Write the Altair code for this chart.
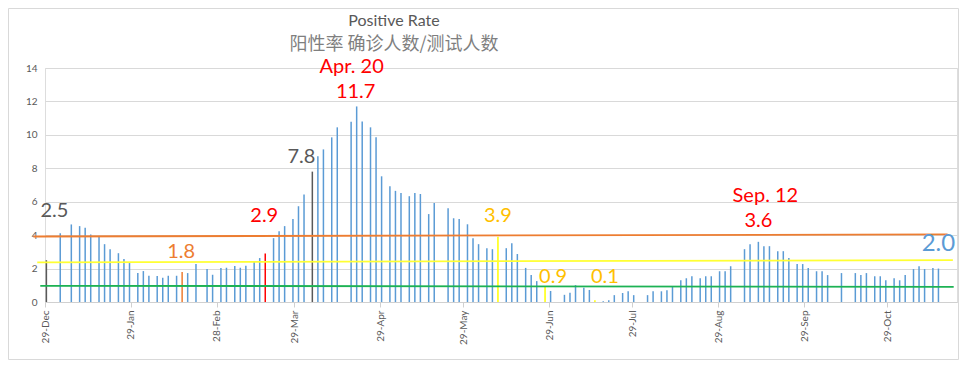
import json
import altair as alt
import pandas as pd

# ---------------- data ----------------
bar_dates = [
    "2020-12-29", "2021-01-03", "2021-01-07", "2021-01-10", "2021-01-12", "2021-01-14", "2021-01-17",
    "2021-01-19", "2021-01-21", "2021-01-24", "2021-01-26", "2021-01-28", "2021-01-31",
    "2021-02-02", "2021-02-04", "2021-02-07", "2021-02-09", "2021-02-11", "2021-02-14", "2021-02-16",
    "2021-02-18", "2021-02-21", "2021-02-25", "2021-02-27",
    "2021-03-02", "2021-03-04", "2021-03-07", "2021-03-09", "2021-03-11", "2021-03-14", "2021-03-16",
    "2021-03-18", "2021-03-21", "2021-03-23", "2021-03-25", "2021-03-28", "2021-03-30",
    "2021-04-01", "2021-04-04", "2021-04-06", "2021-04-08", "2021-04-11", "2021-04-13", "2021-04-18",
    "2021-04-20", "2021-04-22", "2021-04-25", "2021-04-27", "2021-04-29",
    "2021-05-02", "2021-05-04", "2021-05-06", "2021-05-09", "2021-05-11", "2021-05-13", "2021-05-16",
    "2021-05-18", "2021-05-23", "2021-05-25", "2021-05-27", "2021-05-30",
    "2021-06-01", "2021-06-03", "2021-06-06", "2021-06-08", "2021-06-10", "2021-06-13", "2021-06-15",
    "2021-06-17", "2021-06-20", "2021-06-22", "2021-06-24", "2021-06-27", "2021-06-29",
    "2021-07-04", "2021-07-06", "2021-07-08", "2021-07-11", "2021-07-13", "2021-07-15", "2021-07-18",
    "2021-07-20", "2021-07-22", "2021-07-25", "2021-07-27", "2021-07-29",
    "2021-08-03", "2021-08-05", "2021-08-08", "2021-08-10", "2021-08-12", "2021-08-15", "2021-08-17",
    "2021-08-19", "2021-08-22", "2021-08-24", "2021-08-26", "2021-08-29", "2021-08-31",
    "2021-09-02", "2021-09-07", "2021-09-09", "2021-09-12", "2021-09-14", "2021-09-16", "2021-09-19",
    "2021-09-21", "2021-09-23", "2021-09-26", "2021-09-28", "2021-09-30",
    "2021-10-03", "2021-10-05", "2021-10-07", "2021-10-12", "2021-10-17", "2021-10-19", "2021-10-21",
    "2021-10-24", "2021-10-26", "2021-10-28", "2021-10-31",
    "2021-11-02", "2021-11-04", "2021-11-07", "2021-11-09", "2021-11-11", "2021-11-14", "2021-11-16",
]
bar_values = [
    2.5, 4.12, 4.64, 4.54, 4.44, 4.04, 3.90, 3.46, 3.16, 2.92, 2.57, 2.33, 1.73,
    1.85, 1.57, 1.55, 1.45, 1.57, 1.57, 1.8, 1.73, 2.27, 1.97, 1.63,
    2.03, 2.05, 2.15, 2.05, 2.17, 2.45, 2.63, 2.9, 3.82, 4.24, 4.54, 4.97, 5.73,
    6.43, 7.8, 8.72, 9.13, 9.85, 10.45, 10.79, 11.7, 10.8, 10.45, 9.85, 7.52,
    6.93, 6.65, 6.52, 6.33, 6.52, 6.46, 5.26, 5.92, 5.61, 5.01, 4.96, 4.65,
    3.82, 3.46, 3.22, 3.16, 3.9, 3.22, 3.52, 2.87, 2.04, 1.61, 1.25, 0.9, 0.66,
    0.43, 0.55, 1.01, 0.85, 0.72, 0.1, 0.05, 0.11, 0.41, 0.54, 0.65, 0.41,
    0.41, 0.64, 0.64, 0.70, 0.94, 1.30, 1.42, 1.54, 1.42, 1.54, 1.54, 1.84, 1.84,
    2.14, 3.16, 3.46, 3.6, 3.34, 3.34, 3.04, 3.04, 2.63, 2.27, 2.27, 2.03,
    1.84, 1.84, 1.61, 1.73, 1.73, 1.61, 1.73, 1.54, 1.54, 1.30, 1.42,
    1.30, 1.61, 1.97, 2.14, 1.97, 2.03, 2.0,
]
assert len(bar_dates) == len(bar_values)

highlight = {
    "2020-12-29": "gray", "2021-02-16": "orange", "2021-03-18": "red", "2021-04-04": "gray",
    "2021-06-10": "yellow", "2021-06-27": "yellow", "2021-07-15": "yellow",
}

line_names = ["line_orange", "line_yellow", "line_green"]
line_start_dates = ["2020-12-24T06:30:00Z", "2020-12-25T17:00:00Z", "2020-12-26T19:00:00Z"]
line_end_dates = ["2021-11-19T07:00:00Z", "2021-11-21T05:00:00Z", "2021-11-21T12:00:00Z"]
line_start_values = [3.92, 2.37, 0.97]
line_end_values = [4.04, 2.51, 0.91]

ann_dates = ["2020-12-29", "2021-02-16", "2021-03-18", "2021-04-04", "2021-04-20", "2021-04-20",
             "2021-06-10", "2021-06-27", "2021-07-15", "2021-09-12", "2021-09-12", "2021-11-16"]
ann_texts = ["2.5", "1.8", "2.9", "7.8", "Apr. 20", "11.7", "3.9", "0.9", "0.1", "Sep. 12", "3.6", "2.0"]

tick_dates = ["2020-12-29", "2021-01-29", "2021-03-01", "2021-03-29", "2021-04-29", "2021-05-29",
              "2021-06-29", "2021-07-29", "2021-08-29", "2021-09-29", "2021-10-29"]
tick_labels = ["29-Dec", "29-Jan", "28-Feb", "29-Mar", "29-Apr", "29-May",
               "29-Jun", "29-Jul", "29-Aug", "29-Sep", "29-Oct"]

title_lines = ["Positive Rate", "阳性率 确诊人数/测试人数"]

# ---------------- styles ----------------
ann_style = {
    "2.5": ("#595959", 20, 8, -49),
    "1.8": ("#ED7D31", 20, -1, -20),
    "2.9": ("#FF0000", 20, -1, -38),
    "7.8": ("#595959", 20, -11, -15),
    "Apr. 20": ("#FF0000", 20, -5, -39.5),
    "11.7": ("#FF0000", 20, -1, -14.5),
    "3.9": ("#FFC000", 20, 0, -21),
    "0.9": ("#FFC000", 20, 8, -10),
    "0.1": ("#FFC000", 20, 10, -23.5),
    "Sep. 12": ("#FF0000", 20, 7, -46),
    "3.6": ("#FF0000", 20, 0, -21),
    "2.0": ("#5B9BD5", 24, 0, -25),
}
# (font, size, color, x, y) relative to the plot's top-left corner
title_style = [
    ("Lato", 16, "#595959", 349, -47.5),
    ("Noto Sans CJK SC", 18, "#7F7F7F", 349, -23.5),
]
color_domain = ["blue", "gray", "orange", "red", "yellow", "line_orange", "line_yellow", "line_green"]
color_range = ["#5B9BD5", "#595959", "#ED7D31", "#FF0000", "#FFFF00", "#ED7D31", "#FFFF33", "#1DB254"]

FONT = "Lato"
DAY = 86400000


def ms(s):
    t = pd.Timestamp(s)
    if t.tzinfo is None:
        t = t.tz_localize("UTC")
    return int(t.value // 10**6)


bars = pd.DataFrame({"date": bar_dates, "value": bar_values})
bars["group"] = [highlight.get(d, "blue") for d in bar_dates]
value_of = dict(zip(bar_dates, bar_values))

lines_rows = []
for n, sd, ed, sv, ev in zip(line_names, line_start_dates, line_end_dates, line_start_values, line_end_values):
    lines_rows.append({"date": sd, "value": sv, "group": n})
    lines_rows.append({"date": ed, "value": ev, "group": n})
lines = pd.DataFrame(lines_rows)

x_domain = [ms("2020-12-28T12:00:00"), ms("2021-11-22T16:48:00")]
tick_ms = [ms(d) - DAY // 2 for d in tick_dates]
label_expr = f"{json.dumps(tick_labels)}[indexof({json.dumps(tick_ms)}, +datum.value)]"

x_enc = alt.X(
    "date:T",
    scale=alt.Scale(type="utc", domain=x_domain),
    axis=alt.Axis(
        values=tick_ms, labelExpr=label_expr, labelAngle=270, grid=False, title=None,
        domainColor="#D0D0D0", tickColor="#D0D0D0", tickSize=5, labelPadding=3,
        labelFont=FONT, labelFontSize=10, labelColor="#595959", labelOverlap=False,
    ),
)
y_enc = alt.Y(
    "value:Q",
    scale=alt.Scale(domain=[0, 14], nice=False),
    axis=alt.Axis(
        values=[0, 2, 4, 6, 8, 10, 12, 14], title=None, domain=False, ticks=False,
        gridColor="#D9D9D9", labelPadding=8, labelFont=FONT, labelFontSize=10, labelColor="#595959",
    ),
)
color_enc = alt.Color("group:N", scale=alt.Scale(domain=color_domain, range=color_range), legend=None)

border = alt.Chart(pd.DataFrame({"a": [0]})).mark_rect(filled=False, stroke="#D9D9D9", strokeWidth=1).encode(
    x=alt.value(-36.5), x2=alt.value(913.5), y=alt.value(-59.5), y2=alt.value(291.5)
)

bar_layer = alt.Chart(bars).mark_rule(strokeWidth=1.5).encode(
    x=x_enc, y=y_enc, y2=alt.datum(0), color=color_enc
)
line_layer = alt.Chart(lines).mark_line(strokeWidth=1.8).encode(
    x=x_enc, y=y_enc, color=color_enc
)

layers = [border, bar_layer, line_layer]
for d, t in zip(ann_dates, ann_texts):
    col, size, dx, dy = ann_style[t]
    row = pd.DataFrame({"date": [d], "value": [value_of[d]], "label": [t]})
    layers.append(
        alt.Chart(row).mark_text(
            color=col, fontSize=size, dx=dx, dy=dy, align="center", baseline="middle", font=FONT
        ).encode(x=x_enc, y=y_enc, text="label:N")
    )

for txt, (fnt, size, col, px, py) in zip(title_lines, title_style):
    layers.append(
        alt.Chart(pd.DataFrame({"t": [txt]})).mark_text(
            font=fnt, fontSize=size, color=col, align="center", baseline="middle"
        ).encode(x=alt.value(px), y=alt.value(py), text="t:N")
    )

chart = alt.layer(*layers).properties(
    width=912,
    height=234,
    padding={"left": 37, "top": 60, "right": 2, "bottom": 58},
    autosize="none",
).configure_view(strokeWidth=0).configure(font=FONT)

chart.save("out.html", embed_options={"renderer": "svg", "actions": False})
